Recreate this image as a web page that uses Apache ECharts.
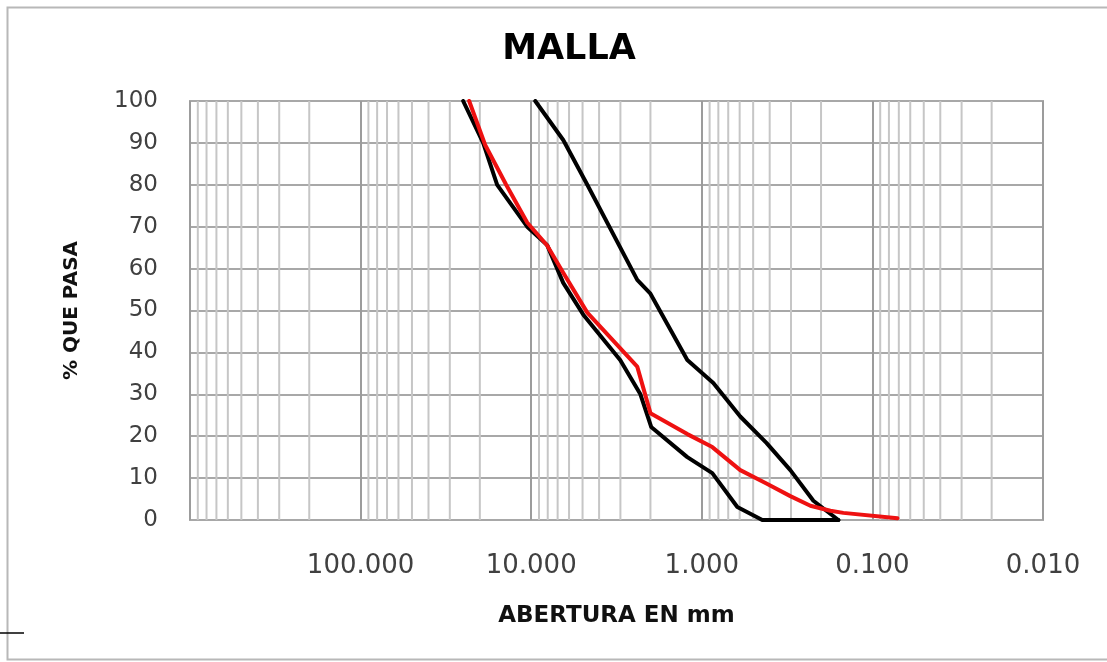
<!DOCTYPE html>
<html>
<head>
<meta charset="utf-8">
<script src="https://cdn.jsdelivr.net/npm/echarts@6/dist/echarts.min.js"></script>
<style>
html,body{margin:0;padding:0;background:#fff;}
#chart{width:1107px;height:662px;}
</style>
</head>
<body>
<div id="chart"></div>
<script>
// Opening (mm) and % passing
var upperSizes = [9.47, 6.49, 4.69, 2.39, 2.00, 1.216, 0.856, 0.595, 0.418, 0.3027, 0.2218, 0.1583];
var upperPass  = [100, 90.7, 80, 57.3, 54, 38.2, 32.7, 24.7, 18.4, 11.9, 4.6, 0];

var lowerSizes = [25.05, 19.12, 15.83, 10.56, 8.06, 6.49, 4.95, 3.01, 2.29, 1.98, 1.216, 0.868, 0.619, 0.442, 0.315, 0.2248, 0.1583];
var lowerPass  = [100, 90, 80, 70, 65.6, 56.6, 49, 38.2, 30, 22.2, 15, 11.2, 3.1, 0, 0, 0, 0];

var sampleSizes = [23.1, 18.61, 14.02, 10.56, 8.06, 6.49, 4.69, 2.39, 2.00, 1.216, 0.868, 0.595, 0.418, 0.3027, 0.231, 0.1763, 0.148, 0.0713];
var samplePass  = [100, 89.5, 80, 71, 65.5, 59, 49.5, 36.6, 25.5, 20.5, 17.4, 11.9, 8.7, 5.7, 3.4, 2.2, 1.7, 0.4];

var xTickLabels = ['0.010', '0.100', '1.000', '10.000', '100.000'];
var yTicks = [0, 10, 20, 30, 40, 50, 60, 70, 80, 90, 100];

// minor log grid lines: 2..9 within each decade
var decades = [0.01, 0.1, 1, 10, 100];
var minorGrid = [];
decades.forEach(function (d) {
  for (var k = 2; k <= 9; k++) minorGrid.push([+(d * k).toPrecision(3), 0]);
});

function pairs(xs, ys) { return xs.map(function (x, i) { return [x, ys[i]]; }); }

var chart = echarts.init(document.getElementById('chart'));
chart.setOption({
  backgroundColor: '#fff',
  animation: false,
  title: {
    text: 'MALLA',
    left: 564, top: 27, textAlign: 'center',
    textStyle: { fontFamily: 'DejaVu Sans', fontWeight: 'bold', fontSize: 35, color: '#000' }
  },
  graphic: [
    { type: 'rect', shape: { x: 7.5, y: 7.5, width: 1130, height: 652 }, style: { fill: null, stroke: '#b8b8b8', lineWidth: 2 }, silent: true },
    { type: 'line', shape: { x1: 0, y1: 633, x2: 24, y2: 633 }, style: { stroke: '#000', lineWidth: 1.5 }, silent: true }
  ],
  grid: { left: 190, right: 64, top: 101, bottom: 142, show: true, borderColor: '#a8a8a8', borderWidth: 2, containLabel: false },
  xAxis: {
    type: 'log', logBase: 10, min: 0.01, max: 1000, inverse: true,
    axisLine: { show: false }, axisTick: { show: false },
    axisLabel: {
      fontFamily: 'DejaVu Sans', fontSize: 26, color: '#404040', margin: 33,
      formatter: function (v) {
        var e = Math.round(Math.log10(v));
        var idx = e + 2;
        return (idx >= 0 && idx < xTickLabels.length) ? xTickLabels[idx] : '';
      }
    },
    splitLine: { show: true, lineStyle: { color: '#9c9c9c', width: 2 } },
    name: 'ABERTURA EN mm', nameLocation: 'middle', nameGap: 85,
    nameTextStyle: { fontFamily: 'DejaVu Sans', fontWeight: 'bold', fontSize: 23, color: '#111' }
  },
  yAxis: {
    type: 'value', min: 0, max: 100, interval: 10,
    axisLine: { show: false }, axisTick: { show: false },
    axisLabel: {
      fontFamily: 'DejaVu Sans', fontSize: 23, color: '#404040', margin: 32,
      formatter: function (v) { return yTicks.indexOf(v) >= 0 ? String(v) : ''; }
    },
    splitLine: { show: true, lineStyle: { color: '#a8a8a8', width: 2 } },
    name: '% QUE PASA', nameLocation: 'middle', nameGap: 108, nameRotate: 90,
    nameTextStyle: { fontFamily: 'DejaVu Sans', fontWeight: 'bold', fontSize: 20, color: '#111' }
  },
  series: [
    {
      type: 'custom', silent: true, z: 1,
      data: minorGrid, encode: { x: 0, y: 1 },
      renderItem: function (params, api) {
        var v = api.value(0);
        var p1 = api.coord([v, 0]);
        var p2 = api.coord([v, 100]);
        return { type: 'line', shape: { x1: p1[0], y1: p1[1], x2: p2[0], y2: p2[1] },
                 style: { stroke: '#c6c6c6', lineWidth: 2 } };
      }
    },
    { name: 'Límite superior', type: 'line', z: 3, data: pairs(upperSizes, upperPass), symbol: 'none', lineStyle: { color: '#000', width: 4, join: 'round', cap: 'round' } },
    { name: 'Límite inferior', type: 'line', z: 3, data: pairs(lowerSizes, lowerPass), symbol: 'none', lineStyle: { color: '#000', width: 4, join: 'round', cap: 'round' } },
    { name: 'Muestra', type: 'line', z: 4, data: pairs(sampleSizes, samplePass), symbol: 'none', lineStyle: { color: '#ee1111', width: 4, join: 'round', cap: 'round' } }
  ]
});
</script>
</body>
</html>
